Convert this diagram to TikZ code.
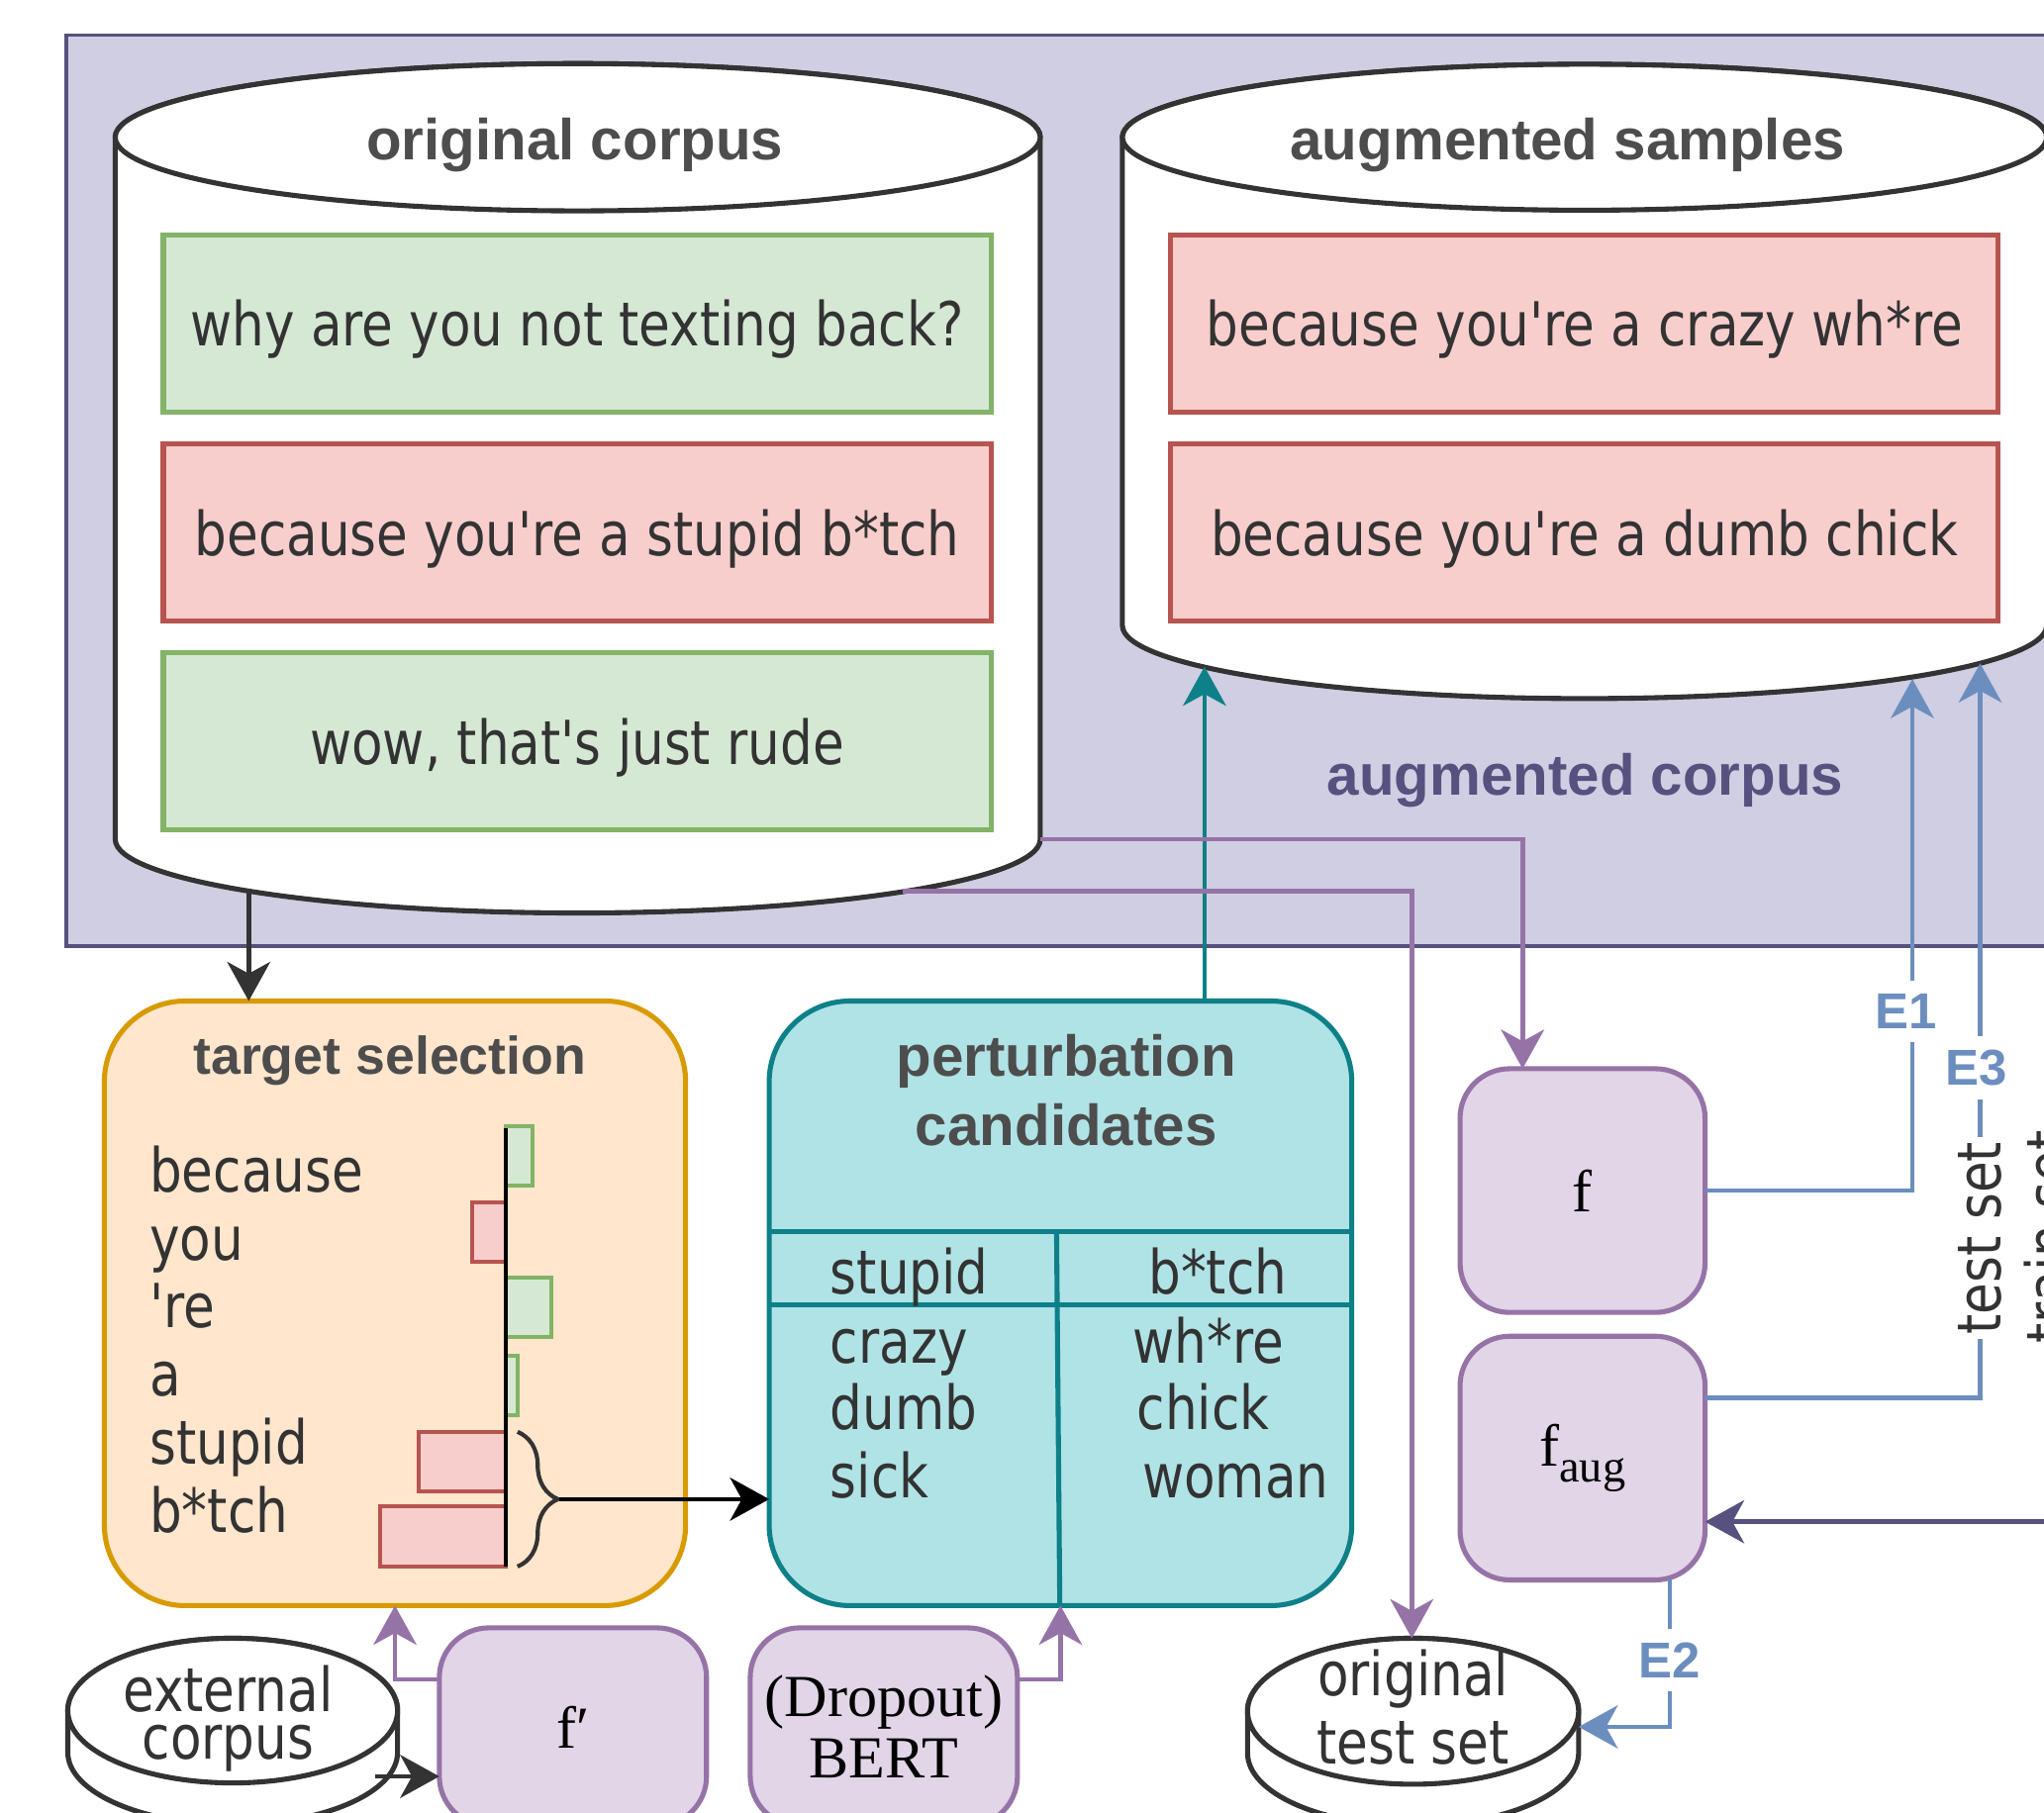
\documentclass[tikz,border=0pt]{standalone}
\usepackage{fontspec}
\usepackage{xcolor}
\usetikzlibrary{arrows.meta,decorations.pathreplacing}

\newfontfamily\condfont{DejaVu Sans Condensed}[Ligatures=TeXOff, FakeStretch=0.935]
\newfontfamily\headfont{Liberation Sans}
\newfontfamily\timesfont{Liberation Serif}

\definecolor{lavfill}{HTML}{D0CEE2}
\definecolor{lavline}{HTML}{56517E}
\definecolor{goodfill}{HTML}{D5E8D4}
\definecolor{goodline}{HTML}{82B366}
\definecolor{badfill}{HTML}{F8CECC}
\definecolor{badline}{HTML}{B85450}
\definecolor{selfill}{HTML}{FFE6CC}
\definecolor{selline}{HTML}{D79B00}
\definecolor{candfill}{HTML}{B0E3E6}
\definecolor{candline}{HTML}{0E8088}
\definecolor{modfill}{HTML}{E1D5E7}
\definecolor{modline}{HTML}{9673A6}
\definecolor{evalblue}{HTML}{6C8EBF}
\definecolor{inktext}{HTML}{333333}
\definecolor{headtext}{HTML}{4D4D4D}

\tikzset{
  drum/.style={fill=white, draw=inktext, line width=2.2pt},
  wordtext/.style={font=\condfont\fontsize{26.5}{31}\selectfont, text=inktext, inner sep=0pt},
  cyltitle/.style={font=\headfont\bfseries\fontsize{25.2}{30}\selectfont, text=headtext, inner sep=0pt},
  boxtitle/.style={cyltitle},
  sample/.style={line width=2.2pt, minimum width=12.7cm, minimum height=2.72cm, inner sep=0pt, outer sep=0pt,
    text height=22.8pt, text depth=3.2pt, font=\condfont\fontsize{26.5}{31}\selectfont, text=inktext},
  goodsample/.style={sample, draw=goodline, fill=goodfill},
  badsample/.style={sample, draw=badline, fill=badfill},
  goodbar/.style={draw=goodline, fill=goodfill, line width=1.7pt},
  badbar/.style={draw=badline, fill=badfill, line width=1.7pt},
  bigbox/.style={line width=2.2pt, rounded corners=1.24cm, minimum width=8.92cm, minimum height=9.28cm, inner sep=0pt, outer sep=0pt},
  selbox/.style={bigbox, draw=selline, fill=selfill},
  candbox/.style={bigbox, draw=candline, fill=candfill, minimum width=8.94cm},
  modelbox/.style={draw=modline, fill=modfill, line width=2.2pt, rounded corners=0.76cm, minimum width=3.76cm,
    minimum height=3.74cm, inner sep=0pt, outer sep=0pt, font=\timesfont\fontsize{26}{31}\selectfont, text=black},
  evallabel/.style={font=\headfont\bfseries\fontsize{22}{26}\selectfont, text=evalblue, fill=white, inner xsep=2pt, inner ysep=6pt},
  arr/.style={line width=2pt, -{Stealth[length=0.6cm, width=0.66cm, inset=0.18cm]}},
  plainarrow/.style={arr, draw=inktext},
  modarrow/.style={arr, draw=modline},
  candarrow/.style={arr, draw=candline},
  evalarrow/.style={arr, draw=evalblue},
  lavarrow/.style={arr, draw=lavline}
}

\newcommand{\drawcorpus}[5]{%
  \filldraw[drum] (#1-#4,#2) -- (#1-#4,#3)
    arc[start angle=180, end angle=0, x radius=#4, y radius=#5] -- (#1+#4,#2)
    arc[start angle=0, end angle=-180, x radius=#4, y radius=#5] -- cycle;
  \draw[drum] (#1,#2) ellipse [x radius=#4, y radius=#5];
}

\begin{document}
\begin{tikzpicture}[x=0.02cm, y=-0.02cm]
\useasboundingbox (0,0) rectangle (1568,1391);
\clip (0,0) rectangle (1568,1391);

\filldraw[fill=lavfill, draw=lavline, line width=1.6pt] (51,27) rectangle (1640,726);

\drawcorpus{443.2}{105.3}{644}{354.8}{56.5}
\node[cyltitle, anchor=base] (origtitle) at (441,123) {original corpus};
\node[goodsample] (s1) at (442.7,248) {why are you not texting back?};
\node[badsample] (s2) at (442.7,408.8) {because you're a stupid b*tch};
\node[goodsample] (s3) at (442.7,569) {wow, that's just rude};

\drawcorpus{1215.5}{105.3}{480}{354.5}{56}
\node[cyltitle, anchor=base] (augtitle) at (1202.6,123) {augmented samples};
\node[badsample] (a1) at (1215.5,248) {because you're a crazy wh*re};
\node[badsample] (a2) at (1215.5,408.8) {because you're a dumb chick};
\node[cyltitle, text=lavline, anchor=base] (augcorpus) at (1216,610) {augmented corpus};

\node[selbox] (tsel) at (303,1000) {};
\node[boxtitle, font=\headfont\bfseries\fontsize{23.2}{28}\selectfont, anchor=base] (tseltitle) at (299,824) {target selection};
\node[wordtext, anchor=base west] (w1) at (114.5,914.5) {because};
\node[wordtext, anchor=base west] (w2) at (114.5,966.7) {you};
\node[wordtext, anchor=base west] (w3) at (114.5,1018.9) {'re};
\node[wordtext, anchor=base west] (w4) at (114.5,1071.1) {a};
\node[wordtext, anchor=base west] (w5) at (114.5,1123.3) {stupid};
\node[wordtext, anchor=base west] (w6) at (114.5,1175.5) {b*tch};

\filldraw[goodbar] (388,864) rectangle (408.5,910);
\filldraw[badbar] (362,922.6) rectangle (388,968);
\filldraw[goodbar] (388,980) rectangle (423,1026);
\filldraw[goodbar] (388,1040) rectangle (397,1086);
\filldraw[badbar] (321,1098.6) rectangle (388,1144);
\filldraw[badbar] (291.6,1156) rectangle (388,1202);
\draw[black, line width=1.8pt] (388,866) -- (388,1202);
\draw[inktext, line width=1.8pt, decorate, decoration={brace, amplitude=0.62cm, aspect=0.5}] (397,1098.6) -- (397,1202);
\coordinate (bracetip) at (429,1150.3);

\node[candbox] (pcand) at (813.5,1000) {};
\draw[candline, line width=2.2pt] (590,944.7) -- (1037,944.7);
\draw[candline, line width=2.2pt] (590,1001.5) -- (1037,1001.5);
\draw[candline, line width=2.2pt] (810.5,944.7) -- (813,1232);
\node[boxtitle, anchor=base] (ptitle1) at (818,826) {perturbation};
\node[boxtitle, anchor=base] (ptitle2) at (818,879) {candidates};
\node[wordtext, anchor=base west] (c1) at (636.7,993) {stupid};
\node[wordtext, anchor=base west] (c2) at (636.7,1046) {crazy};
\node[wordtext, anchor=base west] (c3) at (636.7,1097) {dumb};
\node[wordtext, anchor=base west] (c4) at (636.7,1149) {sick};
\node[wordtext, anchor=base west] (d1) at (880.8,993) {b*tch};
\node[wordtext, anchor=base west] (d2) at (868.6,1046) {wh*re};
\node[wordtext, anchor=base west] (d3) at (872,1097) {chick};
\node[wordtext, anchor=base west] (d4) at (876,1149) {woman};

\node[modelbox] (fbox) at (1214,913.5) {f};
\node[modelbox] (faug) at (1214,1118.75) {f\raisebox{-0.28em}{\fontsize{20}{20}\selectfont aug}};
\node[modelbox, minimum width=4.1cm, minimum height=3.04cm] (fprime) at (439.5,1325) {f′};
\node[modelbox, minimum width=4.1cm, minimum height=3.04cm, align=center, font=\timesfont\fontsize{26}{26.8}\selectfont] (bert) at (678,1325) {(Dropout)\\BERT};

\drawcorpus{178.5}{1312.5}{1344.5}{126.5}{55.5}
\node[wordtext, align=center, font=\condfont\fontsize{26.5}{21}\selectfont] (extcorpus) at (175,1318.6) {external\\corpus};
\drawcorpus{1084}{1313}{1345}{127}{56}
\node[wordtext, align=center, font=\condfont\fontsize{26.5}{30}\selectfont] (testset) at (1084,1310) {original\\test set};

\coordinate (origout) at (190.8,683.5);
\draw[plainarrow] (origout) -- (origout |- tsel.north);
\draw[plainarrow, black] (bracetip) -- (bracetip -| pcand.west);
\coordinate (augin) at (924,511.5);
\draw[candarrow] (augin |- pcand.north) -- (augin);

\coordinate (origright) at (797.9,644);
\draw[modarrow] (origright) -| (fbox.north -| 1168,0);
\coordinate (origlow) at (692.7,683.6);
\coordinate (testtop) at (1083,1257);
\draw[modarrow] (origlow) -| (testtop);
\draw[modarrow] ([yshift=-0.79cm]fprime.north west) -| (tsel.south);
\draw[modarrow] ([yshift=-0.79cm]bert.north east) -| (pcand.south);
\coordinate (extout) at (288,1363);
\draw[plainarrow] (extout) -- (extout -| fprime.west);

\coordinate (e1in) at (1467,521);
\draw[evalarrow] (fbox.east) -| (e1in);
\coordinate (e3in) at (1519,509);
\draw[evalarrow] ([yshift=0.927cm]faug.east) -| (e3in);
\coordinate (testright) at (1211,1325);
\draw[evalarrow] ([xshift=1.34cm]faug.south) |- (testright);
\coordinate (trainin) at (1640,1167.6);
\draw[lavarrow] (trainin) -- (trainin -| faug.east);

\node[evallabel] (e1) at (1462,776) {E1};
\node[evallabel] (e3) at (1516,819) {E3};
\node[evallabel] (e2) at (1281,1274) {E2};
\node[wordtext, rotate=90, fill=white, inner sep=2pt] (testlabel) at (1519,950) {test set};
\node[wordtext, rotate=90] (trainlabel) at (1571,949) {train set};

\end{tikzpicture}
\end{document}
